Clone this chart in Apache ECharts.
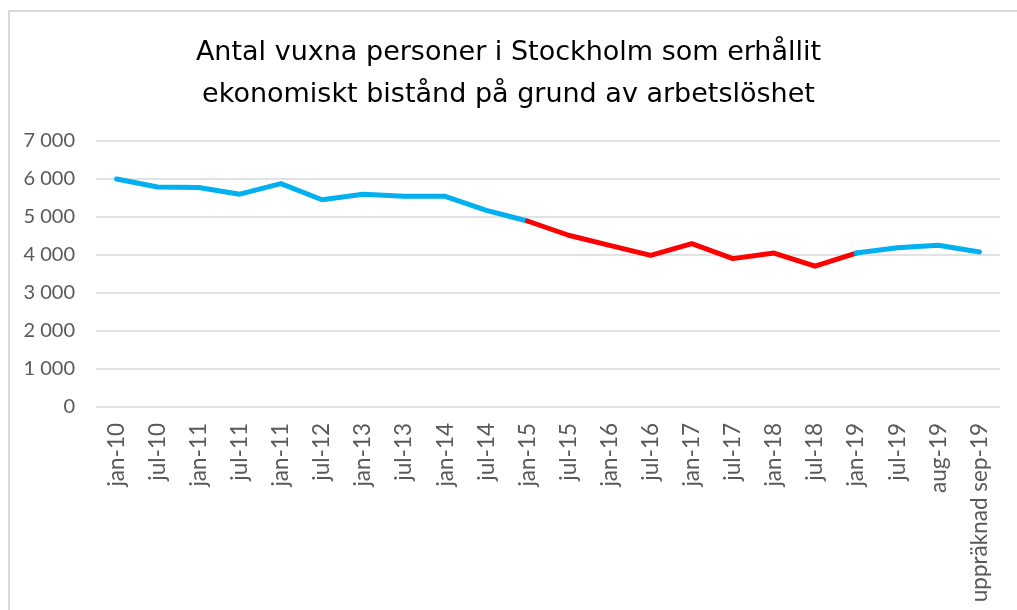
<!DOCTYPE html>
<html>
<head>
<meta charset="utf-8">
<script src="https://cdn.jsdelivr.net/npm/echarts@6/dist/echarts.min.js"></script>
<style>
  html, body { margin: 0; padding: 0; background: #fff; }
  #wrap { position: relative; width: 1017px; height: 610px; overflow: hidden; }
  #chart { width: 1017px; height: 610px; }
  #frame {
    position: absolute; left: 8px; top: 10px; right: -10px; bottom: -10px;
    border-left: 2px solid #d9d9d9; border-top: 2px solid #d9d9d9;
    pointer-events: none;
  }
</style>
</head>
<body>
<div id="wrap">
  <div id="chart"></div>
  <div id="frame"></div>
</div>
<script>
const titleText = 'Antal vuxna personer i Stockholm som erhållit\nekonomiskt bistånd på grund av arbetslöshet';

const categories = [
  'jan-10', 'jul-10', 'jan-11', 'jul-11', 'jan-11', 'jul-12', 'jan-13', 'jul-13',
  'jan-14', 'jul-14', 'jan-15', 'jul-15', 'jan-16', 'jul-16', 'jan-17', 'jul-17',
  'jan-18', 'jul-18', 'jan-19', 'jul-19', 'aug-19', 'uppräknad sep-19'
];

const values = [
  6000, 5790, 5775, 5600, 5880, 5455, 5600, 5545,
  5545, 5175, 4895, 4520, 4255, 3990, 4300, 3905,
  4050, 3705, 4050, 4190, 4255, 4080
];

// index ranges per colour segment
const redStart = 10;
const redEnd = 18;

const yTicks = [0, 1000, 2000, 3000, 4000, 5000, 6000, 7000];

const blue1 = values.map((v, i) => (i <= redStart ? v : null));
const red = values.map((v, i) => (i >= redStart && i <= redEnd ? v : null));
const blue2 = values.map((v, i) => (i >= redEnd ? v : null));

function fmt (v) {
  return String(v).replace(/\B(?=(\d{3})+(?!\d))/g, ' ');
}

const lineSeries = (data, color) => ({
  type: 'line',
  data: data,
  symbol: 'none',
  connectNulls: false,
  lineStyle: { width: 5, color: color, cap: 'round', join: 'round' },
  itemStyle: { color: color }
});

const chart = echarts.init(document.getElementById('chart'));
chart.setOption({
  animation: false,
  title: {
    text: titleText,
    left: 'center',
    top: 27,
    textStyle: {
      fontFamily: 'DejaVu Sans',
      fontSize: 27,
      fontWeight: 'normal',
      color: '#000',
      lineHeight: 42
    }
  },
  grid: {
    left: 96,
    right: 17,
    top: 141,
    bottom: 203
  },
  xAxis: {
    type: 'category',
    data: categories,
    boundaryGap: true,
    axisLine: { show: false },
    axisTick: { show: false },
    axisLabel: {
      rotate: 90,
      interval: 0,
      margin: 16,
      color: '#595959',
      fontFamily: 'Lato',
      fontSize: 22.5
    }
  },
  yAxis: {
    type: 'value',
    min: yTicks[0],
    max: yTicks[yTicks.length - 1],
    interval: 1000,
    axisLine: { show: false },
    axisTick: { show: false },
    axisLabel: {
      margin: 21,
      color: '#595959',
      fontFamily: 'Lato',
      fontSize: 20,
      formatter: fmt
    },
    splitLine: { lineStyle: { color: '#d9d9d9', width: 1.5 } }
  },
  series: [
    lineSeries(blue1, '#00b0f0'),
    lineSeries(red, '#ff0000'),
    lineSeries(blue2, '#00b0f0')
  ]
});
</script>
</body>
</html>
